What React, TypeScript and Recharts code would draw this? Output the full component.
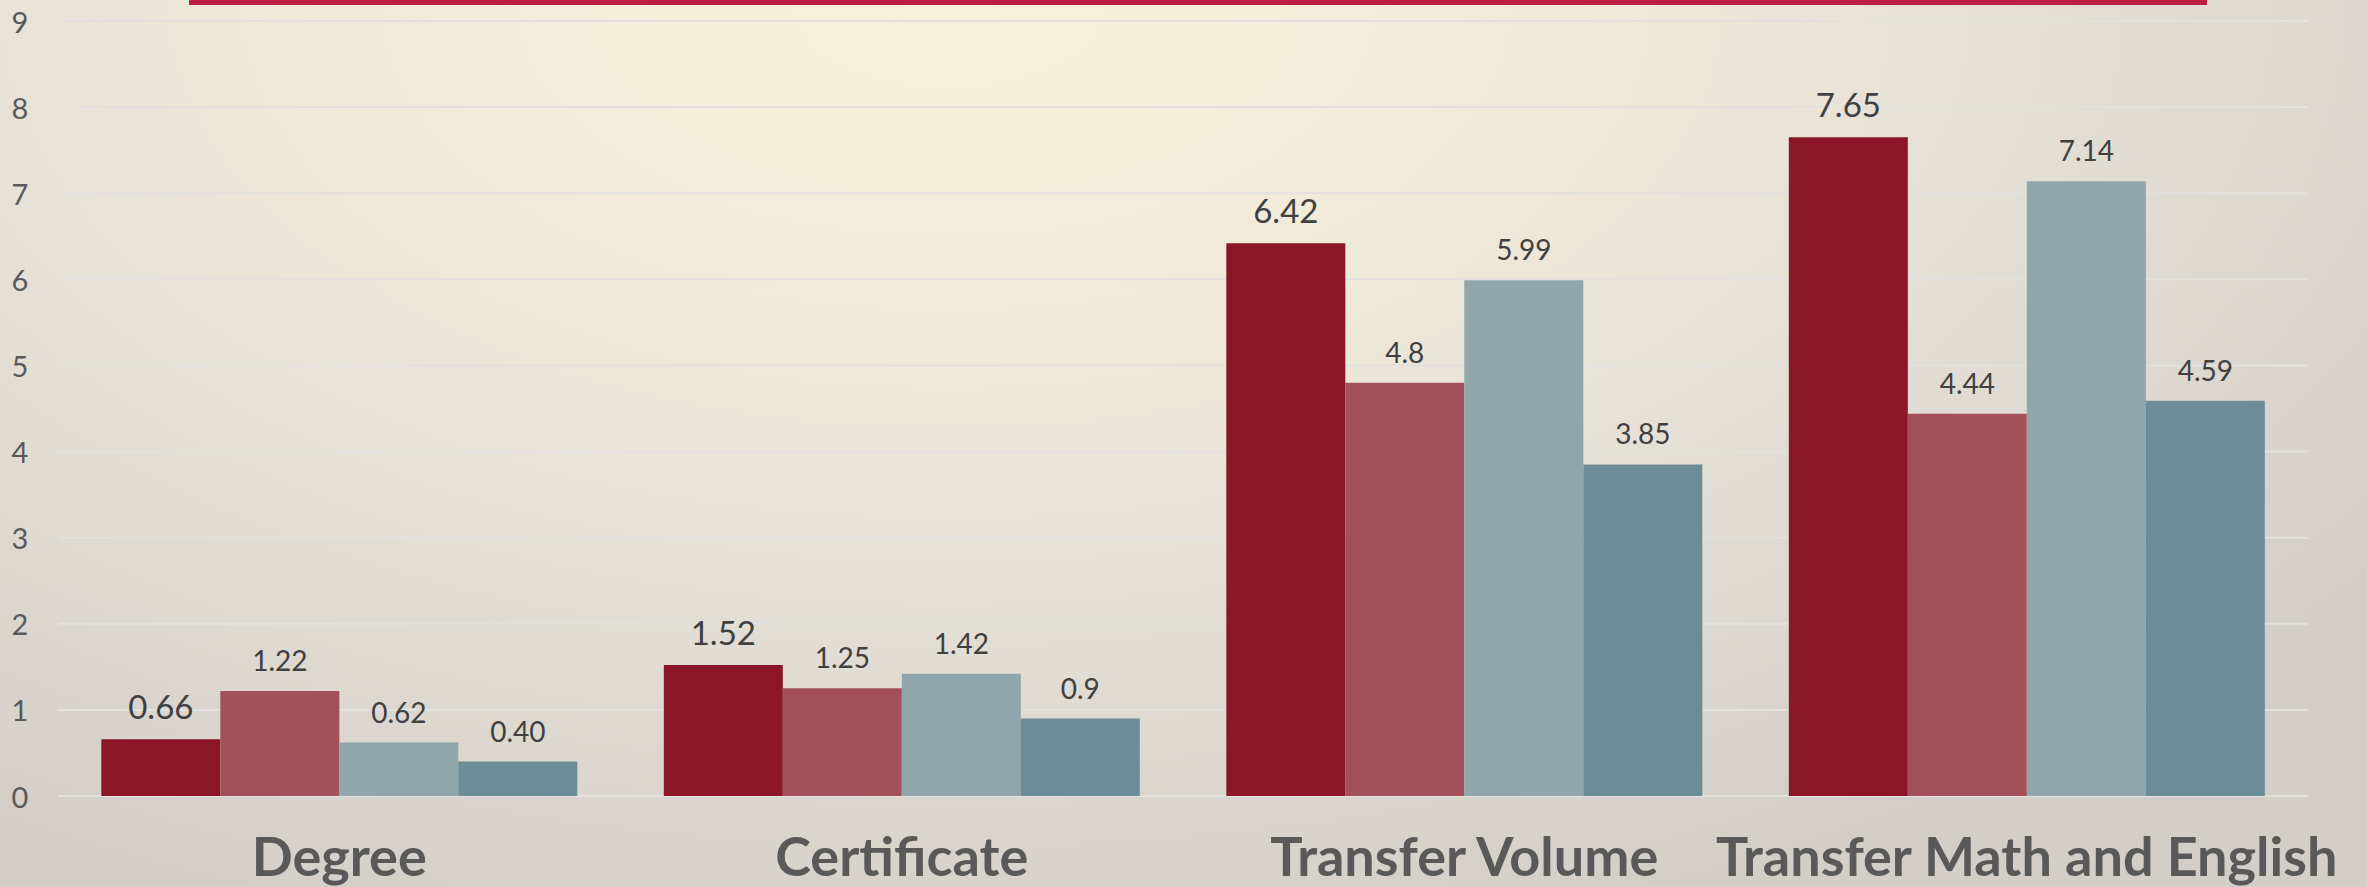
import React from 'react';
import { BarChart, Bar, XAxis, YAxis, CartesianGrid, LabelList } from 'recharts';

const categories = ['Degree', 'Certificate', 'Transfer Volume', 'Transfer Math and English'];
const series1 = [0.66, 1.52, 6.42, 7.65];
const series2 = [1.22, 1.25, 4.8, 4.44];
const series3 = [0.62, 1.42, 5.99, 7.14];
const series4 = [0.4, 0.9, 3.85, 4.59];
const series1Labels = ['0.66', '1.52', '6.42', '7.65'];
const series2Labels = ['1.22', '1.25', '4.8', '4.44'];
const series3Labels = ['0.62', '1.42', '5.99', '7.14'];
const series4Labels = ['0.40', '0.9', '3.85', '4.59'];
const yTicks = [0, 1, 2, 3, 4, 5, 6, 7, 8, 9];

const COLORS = ['#8a1628', '#a3505a', '#8fa6aa', '#6c8c97'];
const FONT = 'Lato, "Open Sans", sans-serif';

const data = categories.map((name, i) => ({
  name,
  s1: series1[i],
  s2: series2[i],
  s3: series3[i],
  s4: series4[i],
  l1: series1Labels[i],
  l2: series2Labels[i],
  l3: series3Labels[i],
  l4: series4Labels[i]
}));

const YTick = ({ y, payload }: any) => (
  <text x={20} y={y} textAnchor="middle" dominantBaseline="central" fill="#595959" fontSize={29} fontFamily={FONT}>
    {payload.value}
  </text>
);

const XTick = ({ x, y, payload }: any) => (
  <text x={x} y={y + 80} textAnchor="middle" fill="#595959" fontSize={54} fontWeight={700} fontFamily={FONT}>
    {payload.value}
  </text>
);

export default function App() {
  return (
    <div
      style={{
        position: 'absolute',
        left: 0,
        top: 0,
        width: 2367,
        height: 887,
        overflow: 'hidden',
        background:
          'radial-gradient(ellipse 75% 110% at 40% 0%, #f6f2dd 0%, #efead8 35%, #e0dcd4 70%, #d3cfc8 100%)'
      }}
    >
      <div style={{ position: 'absolute', left: 189, top: 0, width: 2018, height: 5, background: '#bd1d42' }} />
      <BarChart
        width={2367}
        height={887}
        data={data}
        margin={{ top: 21, right: 59, left: 18, bottom: 31 }}
        barCategoryGap="7.7%"
        barGap={0}
      >
        <CartesianGrid vertical={false} stroke="#e2e1de" strokeWidth={2} />
        <XAxis dataKey="name" axisLine={false} tickLine={false} tickSize={0} tickMargin={0} height={60} tick={<XTick />} interval={0} />
        <YAxis domain={[0, 9]} ticks={yTicks} axisLine={false} tickLine={false} width={40} tick={<YTick />} />
        <Bar dataKey="s1" fill={COLORS[0]} isAnimationActive={false}>
          <LabelList dataKey="l1" position="top" offset={20} fill="#404040" fontSize={33} fontFamily={FONT} />
        </Bar>
        <Bar dataKey="s2" fill={COLORS[1]} isAnimationActive={false}>
          <LabelList dataKey="l2" position="top" offset={20} fill="#404040" fontSize={28} fontFamily={FONT} />
        </Bar>
        <Bar dataKey="s3" fill={COLORS[2]} isAnimationActive={false}>
          <LabelList dataKey="l3" position="top" offset={20} fill="#404040" fontSize={28} fontFamily={FONT} />
        </Bar>
        <Bar dataKey="s4" fill={COLORS[3]} isAnimationActive={false}>
          <LabelList dataKey="l4" position="top" offset={20} fill="#404040" fontSize={28} fontFamily={FONT} />
        </Bar>
      </BarChart>
    </div>
  );
}
